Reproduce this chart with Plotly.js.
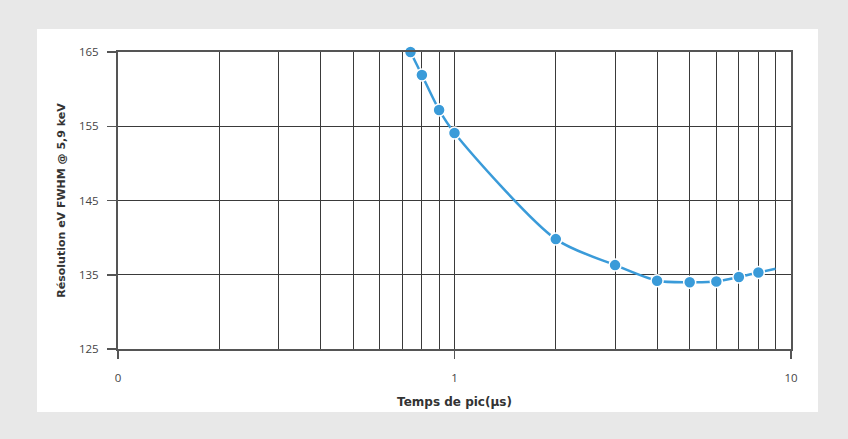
<!DOCTYPE html>
<html>
<head>
<meta charset="utf-8">
<script src="https://cdn.plot.ly/plotly-3.0.1.min.js"></script>
<style>html,body{margin:0;padding:0;background:#e8e8e8;}#chart{width:848px;height:439px;}</style>
</head>
<body>
<div id="chart"></div>
<script>
// Peaking time (µs) and resolution (eV FWHM @ 5.9 keV)
const peakTime = [0.74, 0.8, 0.9, 1, 2, 3, 4, 5, 6, 7, 8, 9];
const resolution = [165.0, 161.9, 157.2, 154.1, 139.8, 136.3, 134.2, 134.0, 134.1, 134.7, 135.3, 135.8];
const markedTime = [0.74, 0.8, 0.9, 1, 2, 3, 4, 5, 6, 7, 8];
const markedRes = [165.0, 161.9, 157.2, 154.1, 139.8, 136.3, 134.2, 134.0, 134.1, 134.7, 135.3];
const xTickVals = [0.1, 1, 10];
const xTickText = ['0', '1', '10'];
const xMinorVals = [0.2, 0.3, 0.4, 0.5, 0.6, 0.7, 0.8, 0.9, 2, 3, 4, 5, 6, 7, 8, 9];
const yTickVals = [125, 135, 145, 155, 165];

const blue = '#3a9bd9';
const grid = '#3a3a3a';
const titleFont = '"DejaVu Sans", "Open Sans", Arial, sans-serif';

const traces = [
  {x: peakTime, y: resolution, mode: 'lines', type: 'scatter',
   line: {color: blue, width: 2.5, shape: 'spline', smoothing: 0.8},
   hoverinfo: 'skip', showlegend: false, cliponaxis: false},
  {x: markedTime, y: markedRes, mode: 'markers', type: 'scatter',
   marker: {color: blue, size: 12, line: {color: '#ffffff', width: 1.5}},
   showlegend: false, cliponaxis: false}
];

const W = 673, H = 297;
const layout = {
  width: 848, height: 439,
  margin: {l: 118, r: 57, t: 52, b: 90},
  paper_bgcolor: '#e8e8e8',
  plot_bgcolor: '#ffffff',
  font: {family: '"Open Sans", Arial, sans-serif', color: '#444', size: 11},
  showlegend: false,
  shapes: [{type: 'rect', xref: 'paper', yref: 'paper', layer: 'below',
    x0: (37 - 118) / W, x1: (818 - 118) / W,
    y0: -(412 - 349) / H, y1: 1 + (52 - 29) / H,
    fillcolor: '#ffffff', line: {width: 0}}],
  xaxis: {
    type: 'log', range: [-1, 1],
    tickmode: 'array', tickvals: xTickVals, ticktext: xTickText,
    ticks: 'outside', ticklen: 8, tickwidth: 1.5, tickcolor: '#555',
    ticklabelstandoff: 9,
    showgrid: true, gridcolor: grid, gridwidth: 1,
    minor: {tickmode: 'array', tickvals: xMinorVals, showgrid: true, gridcolor: grid, gridwidth: 1, ticks: ''},
    showline: true, linecolor: '#555', linewidth: 2, mirror: true,
    zeroline: false, fixedrange: true,
    tickfont: {size: 11.5, color: '#444'},
    title: {text: 'Temps de pic(µs)', standoff: 14,
      font: {size: 12, color: '#333', family: titleFont, weight: 'bold'}}
  },
  yaxis: {
    range: [125, 165],
    tickmode: 'array', tickvals: yTickVals,
    ticks: 'outside', ticklen: 9, tickwidth: 1.5, tickcolor: '#555',
    ticklabelstandoff: 6,
    showgrid: true, gridcolor: grid, gridwidth: 1,
    showline: true, linecolor: '#555', linewidth: 2, mirror: true,
    zeroline: false, fixedrange: true,
    tickfont: {size: 11.5, color: '#444'},
    title: {text: 'Résolution eV FWHM @ 5,9 keV', standoff: 11,
      font: {size: 11, color: '#333', family: titleFont, weight: 'bold'}}
  }
};

Plotly.newPlot('chart', traces, layout, {displayModeBar: false, staticPlot: true});
</script>
</body>
</html>
